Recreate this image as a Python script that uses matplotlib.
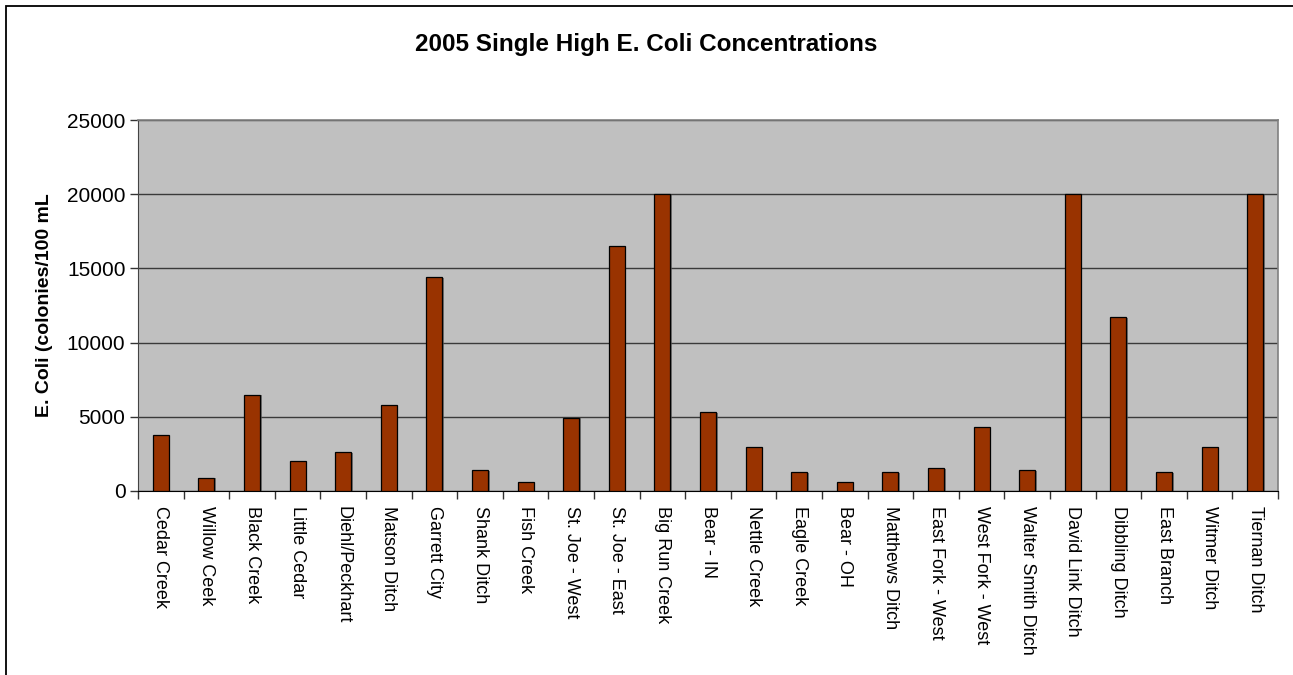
import matplotlib
matplotlib.use("Agg")
import matplotlib.pyplot as plt
from matplotlib.patches import Rectangle
import matplotlib.patheffects as pe
import numpy as np

plt.rcParams['font.family'] = ['Liberation Sans', 'DejaVu Sans']

# sampling sites and their single highest E. coli reading
sites = ["Cedar Creek", "Willow Ceek", "Black Creek", "Little Cedar", "Diehl/Peckhart",
         "Matson Ditch", "Garrett City", "Shank Ditch", "Fish Creek", "St. Joe - West",
         "St. Joe - East", "Big Run Creek", "Bear - IN", "Nettle Creek", "Eagle Creek",
         "Bear - OH", "Matthews Ditch", "East Fork - West", "West Fork - West",
         "Walter Smith Ditch", "David Link Ditch", "Dibbling Ditch", "East Branch",
         "Witmer Ditch", "Tiernan Ditch"]
ecoli = [3750, 900, 6500, 2000, 2650, 5800, 14400, 1400, 600, 4950,
         16500, 20000, 5300, 2950, 1300, 600, 1300, 1550, 4300, 1400,
         20000, 11700, 1300, 2950, 20000]
yticks = [0, 5000, 10000, 15000, 20000, 25000]

W, H = 1293, 675
fig = plt.figure(figsize=(W / 100, H / 100), dpi=100)
fig.patch.set_facecolor("white")

# chart area border (runs off the right and bottom edges)
fig.patches.append(Rectangle((6 / W, -0.1), 1.2, 1.1 - 6 / H, transform=fig.transFigure,
                             fill=False, edgecolor="black", linewidth=1.3, clip_on=False))

ax = fig.add_axes([138 / W, (H - 491) / H, 1140 / W, 371 / H])
ax.set_facecolor("#c0c0c0")

x = np.arange(len(sites))
bars = ax.bar(x, ecoli, width=0.35, color="#993300", edgecolor="black",
              linewidth=0.9, zorder=3)
for b in bars:
    b.set_path_effects([pe.SimplePatchShadow(offset=(1.2, -0.6), shadow_rgbFace="#555555", alpha=0.7),
                        pe.Normal()])

ax.set_ylim(0, 25000)
ax.set_xlim(-0.5, len(sites) - 0.5)
ax.set_yticks(yticks)
ax.set_yticklabels([str(v) for v in yticks], fontsize=15)
ax.yaxis.grid(True, color="#3a3a3a", linewidth=1.0, zorder=1)
ax.set_axisbelow(True)

ax.set_xticks(x)
ax.set_xticklabels(sites, rotation=-90, fontsize=13, va="top", ha="center")
ax.set_xticks(np.arange(-0.5, len(sites)), minor=True)
ax.tick_params(axis="x", which="major", length=0, pad=11)
ax.tick_params(axis="x", which="minor", length=6, width=1, color="#333333")
ax.tick_params(axis="y", length=6, width=1, color="#333333", pad=3)

for side in ["top", "right"]:
    ax.spines[side].set_color("#808080")
    ax.spines[side].set_linewidth(1.2)
ax.spines["left"].set_color("#444444")
ax.spines["bottom"].set_color("black")

ax.set_ylabel("E. Coli (colonies/100 mL", fontsize=14, fontweight="bold", labelpad=10)

fig.text(0.5, 1 - 45 / H, "2005 Single High E. Coli Concentrations",
         fontsize=17.5, fontweight="bold", ha="center", va="center")

fig.savefig("out.png", dpi=100)
